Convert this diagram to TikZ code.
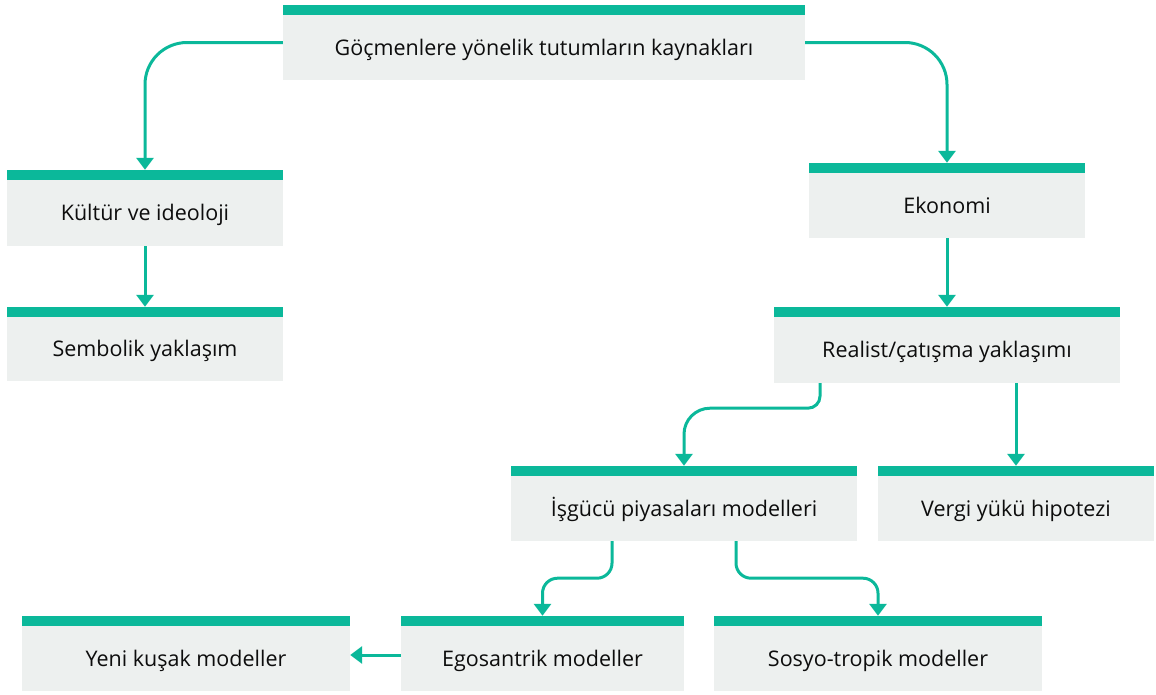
\documentclass[tikz,border=0pt]{standalone}
\usepackage{fontspec}
\setmainfont{Open Sans}
\usetikzlibrary{arrows.meta}
\definecolor{tgreen}{HTML}{0BB89A}
\definecolor{tgray}{HTML}{EDF0EF}
\tikzset{
  gbox/.style={fill=tgray, inner sep=0pt, minimum height=65pt, text height=18pt, text depth=2.6pt, font=\fontsize{21.5}{26}\selectfont, text=black!95},
  gbar/.style={fill=tgreen},
  arr/.style={draw=tgreen, line width=3pt, -{Triangle[width=17pt,length=12pt]}},
}
\newcommand\barabove[1]{\fill[gbar] (#1.north west) rectangle ([yshift=10pt]#1.north east); \coordinate (#1T) at ([yshift=10pt]#1.north);}
\begin{document}
\begin{tikzpicture}[x=1pt,y=-1pt]
\useasboundingbox (0,0) rectangle (1156,694);
% nodes (gray parts)
\node[gbox, minimum width=522pt] (top) at (544,47.5) {Göçmenlere yönelik tutumların kaynakları};
\node[gbox, minimum width=276pt, minimum height=66pt] (kul) at (145,213) {Kültür ve ideoloji};
\node[gbox, minimum width=276pt, minimum height=64pt] (sem) at (145,349) {Sembolik yaklaşım};
\node[gbox, minimum width=276pt] (eko) at (947,205.5) {Ekonomi};
\node[gbox, minimum width=346pt, minimum height=66pt] (rea) at (947,350) {Realist/çatışma yaklaşımı};
\node[gbox, minimum width=346pt] (isg) at (684,508.5) {İşgücü piyasaları modelleri};
\node[gbox, minimum width=276pt] (ver) at (1016,508.5) {Vergi yükü hipotezi};
\node[gbox, minimum width=328pt] (yen) at (186,658.5) {Yeni kuşak modeller};
\node[gbox, minimum width=283pt] (ego) at (542.5,658.5) {Egosantrik modeller};
\node[gbox, minimum width=328pt] (sos) at (878,658.5) {Sosyo-tropik modeller};
\barabove{top}\barabove{kul}\barabove{sem}\barabove{eko}\barabove{rea}
\barabove{isg}\barabove{ver}\barabove{yen}\barabove{ego}\barabove{sos}
% connectors
\draw[arr, rounded corners=42pt] ([yshift=5pt]top.west) -| (kulT);
\draw[arr, rounded corners=42pt] ([yshift=5pt]top.east) -| (ekoT);
\draw[arr] (kul.south) -- (semT);
\draw[arr] (eko.south) -- (ekoT |- semT);
\coordinate (reaS) at ([xshift=-127pt]rea.south);
\draw[arr] (reaS) [rounded corners=12pt] -- ([yshift=-25pt]reaS) [rounded corners=26pt] -| (isgT);
\draw[arr] (verT |- rea.south) -- (verT);
\coordinate (isgA) at ([xshift=-72pt]isg.south);
\coordinate (isgB) at ([xshift=52pt]isg.south);
\draw[arr, rounded corners=15pt] (isgA) -- ([yshift=-37pt]isgA) -| (egoT);
\draw[arr, rounded corners=15pt] (isgB) -- ([yshift=-37pt]isgB) -| (sosT);
\draw[arr] ([yshift=3.5pt]ego.west) -- ([yshift=3.5pt]ego.west -| yen.east);
\end{tikzpicture}
\end{document}
